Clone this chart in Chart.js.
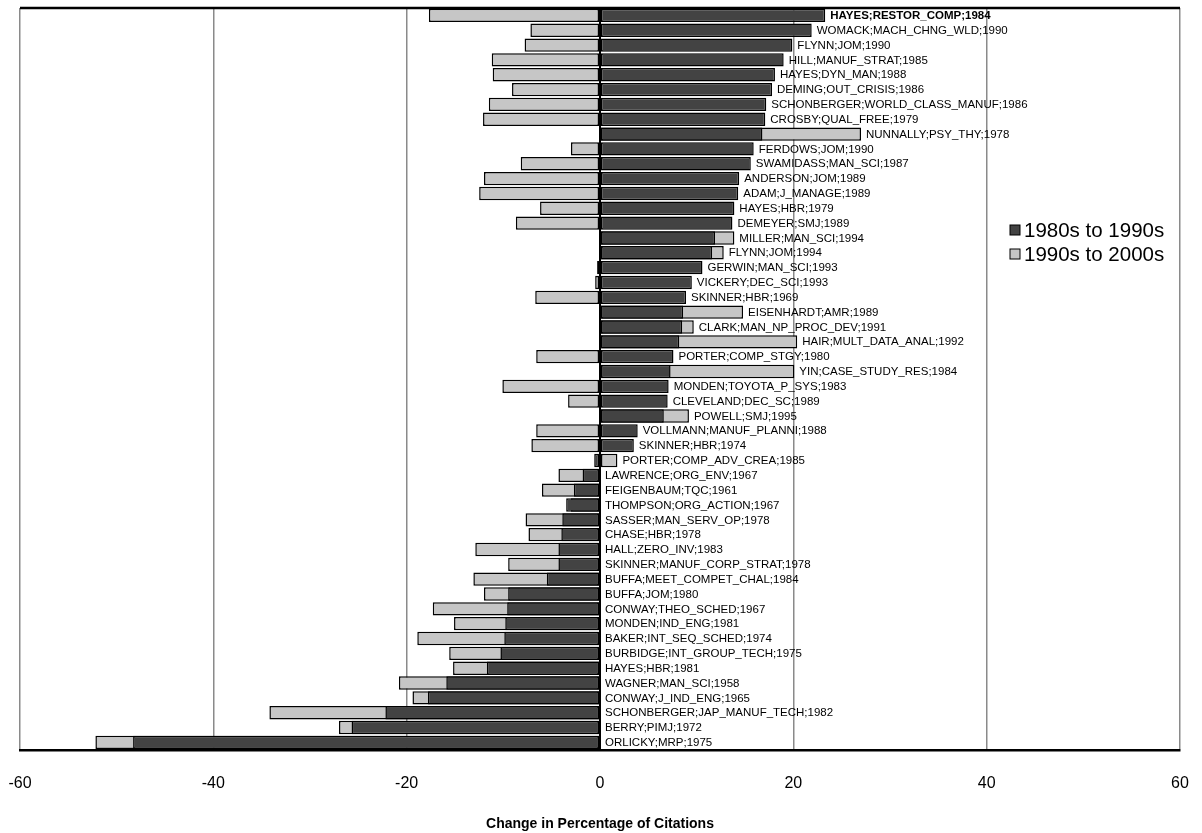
<!DOCTYPE html>
<html>
<head>
<meta charset="utf-8">
<script src="https://cdn.jsdelivr.net/npm/chart.js@4/dist/chart.umd.min.js"></script>
<style>
  html, body { margin: 0; padding: 0; background: #fff; }
  #wrap { width: 1202px; height: 833px; }
</style>
</head>
<body>
<div id="wrap"><canvas id="chart" width="1202" height="833"></canvas></div>
<script>
// Referências (autor;título;ano)
const refs = [
  'HAYES;RESTOR_COMP;1984', 'WOMACK;MACH_CHNG_WLD;1990', 'FLYNN;JOM;1990', 'HILL;MANUF_STRAT;1985',
  'HAYES;DYN_MAN;1988', 'DEMING;OUT_CRISIS;1986', 'SCHONBERGER;WORLD_CLASS_MANUF;1986', 'CROSBY;QUAL_FREE;1979',
  'NUNNALLY;PSY_THY;1978', 'FERDOWS;JOM;1990', 'SWAMIDASS;MAN_SCI;1987', 'ANDERSON;JOM;1989',
  'ADAM;J_MANAGE;1989', 'HAYES;HBR;1979', 'DEMEYER;SMJ;1989', 'MILLER;MAN_SCI;1994',
  'FLYNN;JOM;1994', 'GERWIN;MAN_SCI;1993', 'VICKERY;DEC_SCI;1993', 'SKINNER;HBR;1969',
  'EISENHARDT;AMR;1989', 'CLARK;MAN_NP_PROC_DEV;1991', 'HAIR;MULT_DATA_ANAL;1992', 'PORTER;COMP_STGY;1980',
  'YIN;CASE_STUDY_RES;1984', 'MONDEN;TOYOTA_P_SYS;1983', 'CLEVELAND;DEC_SC;1989', 'POWELL;SMJ;1995',
  'VOLLMANN;MANUF_PLANNI;1988', 'SKINNER;HBR;1974', 'PORTER;COMP_ADV_CREA;1985', 'LAWRENCE;ORG_ENV;1967',
  'FEIGENBAUM;TQC;1961', 'THOMPSON;ORG_ACTION;1967', 'SASSER;MAN_SERV_OP;1978', 'CHASE;HBR;1978',
  'HALL;ZERO_INV;1983', 'SKINNER;MANUF_CORP_STRAT;1978', 'BUFFA;MEET_COMPET_CHAL;1984', 'BUFFA;JOM;1980',
  'CONWAY;THEO_SCHED;1967', 'MONDEN;IND_ENG;1981', 'BAKER;INT_SEQ_SCHED;1974', 'BURBIDGE;INT_GROUP_TECH;1975',
  'HAYES;HBR;1981', 'WAGNER;MAN_SCI;1958', 'CONWAY;J_IND_ENG;1965', 'SCHONBERGER;JAP_MANUF_TECH;1982',
  'BERRY;PIMJ;1972', 'ORLICKY;MRP;1975'
];

// Variação 1980s -> 1990s
const change80to90 = [
  23.3, 21.9, 19.9, 19.0, 18.1, 17.8, 17.2, 17.1,
  16.8, 15.9, 15.6, 14.4, 14.3, 13.9, 13.7, 11.9,
  11.6, 10.6, 9.5, 8.9, 8.6, 8.5, 8.2, 7.6,
  7.3, 7.1, 7.0, 6.6, 3.9, 3.5, -0.6, -1.8,
  -2.7, -3.5, -3.9, -4.0, -4.3, -4.3, -5.5, -9.5,
  -9.6, -9.8, -9.9, -10.3, -11.7, -15.9, -17.8, -22.2,
  -25.7, -48.3
];

// Variação 1990s -> 2000s
const change90to00 = [
  -17.7, -7.2, -7.8, -11.2, -11.1, -9.1, -11.5, -12.1,
  27.0, -3.0, -8.2, -12.0, -12.5, -6.2, -8.7, 13.9,
  12.8, -0.3, -0.5, -6.7, 14.8, 9.7, 20.4, -6.6,
  20.1, -10.1, -3.3, 9.2, -6.6, -7.1, 1.8, -4.3,
  -6.0, -3.0, -7.7, -7.4, -12.9, -9.5, -13.1, -12.0,
  -17.3, -15.1, -18.9, -15.6, -15.2, -20.8, -19.4, -34.2,
  -27.0, -52.2
];

const seriesNames = ['1980s to 1990s', '1990s to 2000s'];
const xTicks = [-60, -40, -20, 0, 20, 40, 60];

const DARK = '#434343';
const LIGHT = '#c6c6c6';

// Rótulos ao lado das barras
const barLabels = {
  id: 'barLabels',
  afterDatasetsDraw(chart) {
    const ctx = chart.ctx;
    const x = chart.scales.x;
    const meta = chart.getDatasetMeta(0);
    ctx.save();
    ctx.fillStyle = '#000';
    ctx.textBaseline = 'middle';
    ctx.textAlign = 'left';
    refs.forEach((txt, i) => {
      const end = Math.max(change80to90[i], change90to00[i], 0);
      const px = x.getPixelForValue(end) + 5;
      ctx.font = (i === 0 ? 'bold ' : '') + '11.5px "Liberation Sans", Arial, sans-serif';
      ctx.fillText(txt, px, meta.data[i].y + 0.5);
    });
    ctx.restore();
  }
};

// Legenda dentro da área do gráfico + moldura superior
const sideLegend = {
  id: 'sideLegend',
  afterDraw(chart) {
    const ctx = chart.ctx;
    const a = chart.chartArea;
    ctx.save();
    ctx.strokeStyle = '#000';
    ctx.lineWidth = 2.5;
    ctx.beginPath();
    ctx.moveTo(a.left, a.top);
    ctx.lineTo(a.right, a.top);
    ctx.stroke();

    const lx = a.right - 170, ly = a.top + 222;
    ctx.font = '20.5px "Liberation Sans", Arial, sans-serif';
    ctx.textBaseline = 'middle';
    [DARK, LIGHT].forEach((c, k) => {
      const y = ly + k * 24;
      ctx.fillStyle = c;
      ctx.fillRect(lx, y - 5, 10, 10);
      ctx.lineWidth = 1;
      ctx.strokeRect(lx, y - 5, 10, 10);
      ctx.fillStyle = '#000';
      ctx.fillText(seriesNames[k], lx + 14, y + 1);
    });
    ctx.restore();
  }
};

new Chart(document.getElementById('chart'), {
  type: 'bar',
  data: {
    labels: refs,
    datasets: [
      {
        label: seriesNames[0],
        data: change80to90,
        backgroundColor: DARK,
        borderColor: '#000',
        borderWidth: 1.5,
        borderSkipped: false,
        grouped: false,
        barPercentage: 0.9,
        categoryPercentage: 1
      },
      {
        label: seriesNames[1],
        data: change90to00,
        backgroundColor: LIGHT,
        borderColor: '#000',
        borderWidth: 1.5,
        borderSkipped: false,
        grouped: false,
        barPercentage: 0.9,
        categoryPercentage: 1
      }
    ]
  },
  options: {
    indexAxis: 'y',
    responsive: false,
    animation: false,
    layout: { padding: { left: 20, right: 22, top: 8, bottom: 0 } },
    plugins: {
      legend: { display: false },
      tooltip: { enabled: false }
    },
    scales: {
      x: {
        min: -60,
        max: 60,
        afterBuildTicks(scale) { scale.ticks = xTicks.map(v => ({ value: v })); },
        // a folga lateral fica só com layout.padding
        afterFit(scale) { scale.paddingLeft = 0; scale.paddingRight = 0; },
        grid: {
          color: ctx => ctx.tick && ctx.tick.value === 0 ? '#000' : '#8a8a8a',
          lineWidth: ctx => ctx.tick && ctx.tick.value === 0 ? 2 : 1.5,
          drawTicks: false
        },
        border: { color: '#000', width: 2.5 },
        ticks: {
          color: '#000',
          padding: 24,
          font: { family: '"Liberation Sans", Arial, sans-serif', size: 16 }
        },
        title: {
          display: true,
          text: 'Change in Percentage of Citations',
          color: '#000',
          padding: { top: 0, bottom: 2 },
          font: { family: '"Liberation Sans", Arial, sans-serif', size: 14, weight: 'bold', lineHeight: 1 }
        }
      },
      y: {
        display: false
      }
    }
  },
  plugins: [barLabels, sideLegend]
});
</script>
</body>
</html>
